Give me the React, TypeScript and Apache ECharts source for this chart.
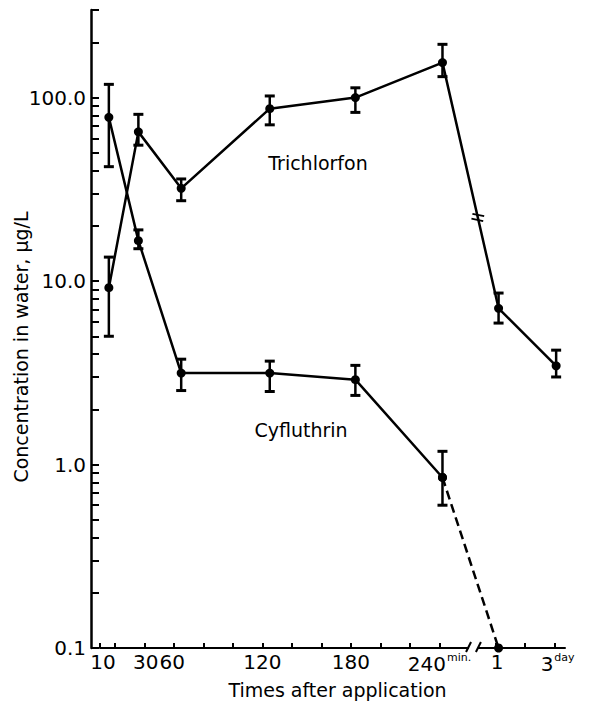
import React, { useEffect, useRef } from 'react';
import * as echarts from 'echarts';

// Sampling times (nominal) and their plotted positions on the (broken) time axis
const timeLabels = ['10 min', '30 min', '60 min', '120 min', '180 min', '240 min', '1 day', '3 day'];
const xPositions = [16, 36, 65, 125, 183, 242, 280, 319];

// Trichlorfon, µg/L (mean, upper and lower error)
const trichlorfon = [9.2, 65, 32, 87, 100, 155, 7.1, 3.45];
const trichlorfonHigh = [13.5, 81, 36, 102, 113, 195, 8.6, 4.2];
const trichlorfonLow = [5.0, 55, 27.4, 71, 83, 130, 5.9, 3.0];

// Cyfluthrin, µg/L (last value is at detection floor, 1 day)
const cyfluthrin = [78, 16.6, 3.15, 3.15, 2.9, 0.85, 0.1];
const cyfluthrinHigh = [118, 19, 3.75, 3.66, 3.47, 1.18, null];
const cyfluthrinLow = [42, 15, 2.53, 2.5, 2.38, 0.6, null];

// Axis ticks / labels
const xTickValues = [10, 20, 40, 60, 80, 100, 120, 140, 160, 180, 200, 220, 240, 278, 298, 318];
const xLabelValues = [12, 41, 59, 120, 180, 240, 279, 320];
const xLabelTexts = ['10', '30', '60', '120', '180', '240{s|min.}', '1', '3{s|day}'];
const yLabelValues = [0.1, 1, 10, 100];
const yLabelTexts = ['0.1', '1.0', '10.0', '100.0'];
const yTickValues = [
  0.1, 0.2, 0.3, 0.4, 0.5, 0.6, 0.7, 0.8, 0.9,
  1, 2, 3, 4, 5, 6, 7, 8, 9,
  10, 20, 30, 40, 50, 60, 70, 80, 90,
  100, 200, 300,
];

const FONT = 'DejaVu Sans';

function errorSeries(name: string, high: (number | null)[], low: (number | null)[]) {
  const data: number[][] = [];
  xPositions.forEach((x, i) => {
    if (high[i] != null && low[i] != null) data.push([x, low[i] as number, high[i] as number]);
  });
  return {
    name,
    type: 'custom',
    data,
    encode: { x: 0, y: [1, 2] },
    z: 4,
    renderItem: (params: any, api: any) => {
      const x = api.value(0);
      const lo = api.coord([x, api.value(1)]);
      const hi = api.coord([x, api.value(2)]);
      const w = 5;
      const st = { stroke: '#000', lineWidth: 2.5 };
      return {
        type: 'group',
        children: [
          { type: 'line', shape: { x1: lo[0], y1: lo[1], x2: hi[0], y2: hi[1] }, style: st },
          { type: 'line', shape: { x1: hi[0] - w, y1: hi[1], x2: hi[0] + w, y2: hi[1] }, style: { stroke: '#000', lineWidth: 3 } },
          { type: 'line', shape: { x1: lo[0] - w, y1: lo[1], x2: lo[0] + w, y2: lo[1] }, style: { stroke: '#000', lineWidth: 3 } },
        ],
      };
    },
  };
}

export default function App() {
  const ref = useRef<HTMLDivElement>(null);

  useEffect(() => {
    if (!ref.current) return;
    const chart = echarts.init(ref.current, undefined, { renderer: 'svg' });

    const tData = xPositions.map((x, i) => [x, trichlorfon[i]]);
    const cData = xPositions.slice(0, cyfluthrin.length).map((x, i) => [x, cyfluthrin[i]]);
    const cSolid = cData.slice(0, 6);
    const cDashed = cData.slice(5);

    const option: any = {
      animation: false,
      backgroundColor: '#fff',
      grid: { left: 100, right: 25, top: 10, bottom: 55, containLabel: false, outerBoundsMode: 'none' },
      xAxis: {
        type: 'value',
        min: 10,
        max: 325,
        splitLine: { show: false },
        axisLine: { show: true, onZero: false, lineStyle: { color: '#000', width: 2 } },
        axisTick: { show: true, inside: true, length: 5, customValues: xTickValues, lineStyle: { color: '#000', width: 2 } },
        axisLabel: {
          customValues: xLabelValues,
          margin: 4,
          color: '#000',
          fontFamily: FONT,
          fontSize: 20,
          formatter: (v: number) => {
            const i = xLabelValues.indexOf(v);
            return i >= 0 ? xLabelTexts[i] : '';
          },
          rich: {
            s: { fontFamily: FONT, fontSize: 11, color: '#000', padding: [0, 0, 12, 1] },
          },
        },
        name: 'Times after application',
        nameLocation: 'middle',
        nameGap: 32,
        nameTextStyle: { color: '#000', fontFamily: FONT, fontSize: 19, padding: [0, 0, 0, 10] },
      },
      yAxis: {
        type: 'log',
        logBase: 10,
        min: 0.1,
        max: 300,
        offset: 9,
        splitLine: { show: false },
        axisLine: { show: true, lineStyle: { color: '#000', width: 2.5 } },
        axisTick: { show: true, inside: true, length: 8, customValues: yTickValues, lineStyle: { color: '#000', width: 2 } },
        axisLabel: {
          customValues: yLabelValues,
          margin: 5,
          color: '#000',
          fontFamily: FONT,
          fontSize: 20,
          formatter: (v: number) => {
            let best = 0;
            yLabelValues.forEach((lv, i) => {
              if (Math.abs(Math.log10(lv) - Math.log10(v)) < Math.abs(Math.log10(yLabelValues[best]) - Math.log10(v))) best = i;
            });
            return yLabelTexts[best];
          },
        },
      },
      series: [
        {
          name: 'Trichlorfon',
          type: 'line',
          data: tData,
          symbol: 'circle',
          symbolSize: 9,
          itemStyle: { color: '#000' },
          lineStyle: { color: '#000', width: 2.5 },
          z: 5,
        },
        {
          name: 'Cyfluthrin',
          type: 'line',
          data: cSolid,
          symbol: 'circle',
          symbolSize: 9,
          itemStyle: { color: '#000' },
          lineStyle: { color: '#000', width: 2.5 },
          z: 5,
        },
        {
          name: 'Cyfluthrin (below detection)',
          type: 'line',
          data: cDashed,
          symbol: 'circle',
          symbolSize: 9,
          clip: false,
          itemStyle: { color: '#000' },
          lineStyle: { color: '#000', width: 2.5, type: [9, 5] },
          z: 5,
        },
        errorSeries('Trichlorfon error', trichlorfonHigh, trichlorfonLow),
        errorSeries('Cyfluthrin error', cyfluthrinHigh, cyfluthrinLow),
      ],
    };

    chart.setOption(option);

    // decorations computed from the axes
    const px = (x: number, y: number) => chart.convertToPixel({ gridIndex: 0 }, [x, y]) as number[];
    const axisY = px(10, 0.1)[1];
    const b1 = px(260, 0.1)[0];
    const b2 = px(266, 0.1)[0];

    const p6 = px(xPositions[5], trichlorfon[5]);
    const p7 = px(xPositions[6], trichlorfon[6]);
    const t = 0.63;
    const mx = p6[0] + (p7[0] - p6[0]) * t;
    const my = p6[1] + (p7[1] - p6[1]) * t;

    const graphic: any[] = [
      {
        type: 'text',
        x: 21,
        y: 347,
        rotation: Math.PI / 2,
        style: {
          text: 'Concentration in water, \u03bcg/L',
          font: `19px "${FONT}"`,
          fill: '#000',
          textAlign: 'center',
          textVerticalAlign: 'middle',
          align: 'center',
          verticalAlign: 'middle',
        },
      },
      {
        type: 'text',
        x: 318,
        y: 163,
        style: { text: 'Trichlorfon', font: `19px "${FONT}"`, fill: '#000', textAlign: 'center', textVerticalAlign: 'middle', align: 'center', verticalAlign: 'middle' },
      },
      {
        type: 'text',
        x: 301,
        y: 430,
        style: { text: 'Cyfluthrin', font: `19px "${FONT}"`, fill: '#000', textAlign: 'center', textVerticalAlign: 'middle', align: 'center', verticalAlign: 'middle' },
      },
      // axis break
      { type: 'rect', shape: { x: b1, y: axisY - 3, width: b2 - b1, height: 6 }, style: { fill: '#fff' }, z: 100 },
      { type: 'line', shape: { x1: b1 - 3, y1: axisY + 4, x2: b1 + 2, y2: axisY - 6 }, style: { stroke: '#000', lineWidth: 2 }, z: 101 },
      { type: 'line', shape: { x1: b2 - 2, y1: axisY + 4, x2: b2 + 3, y2: axisY - 6 }, style: { stroke: '#000', lineWidth: 2 }, z: 101 },
      // break on the Trichlorfon line
      {
        type: 'group',
        x: mx,
        y: my,
        rotation: -0.2,
        z: 100,
        children: [
          { type: 'rect', shape: { x: -4, y: -1.5, width: 8, height: 3 }, style: { fill: '#fff' } },
          { type: 'line', shape: { x1: -6, y1: -2.5, x2: 6, y2: -2.5 }, style: { stroke: '#000', lineWidth: 1.8 } },
          { type: 'line', shape: { x1: -6, y1: 2.5, x2: 6, y2: 2.5 }, style: { stroke: '#000', lineWidth: 1.8 } },
        ],
      },
    ];
    chart.setOption({ graphic });

    return () => chart.dispose();
  }, []);

  return (
    <div
      ref={ref}
      style={{ position: 'fixed', left: 0, top: 0, width: 590, height: 703, background: '#fff' }}
      data-times={timeLabels.join(',')}
    />
  );
}
